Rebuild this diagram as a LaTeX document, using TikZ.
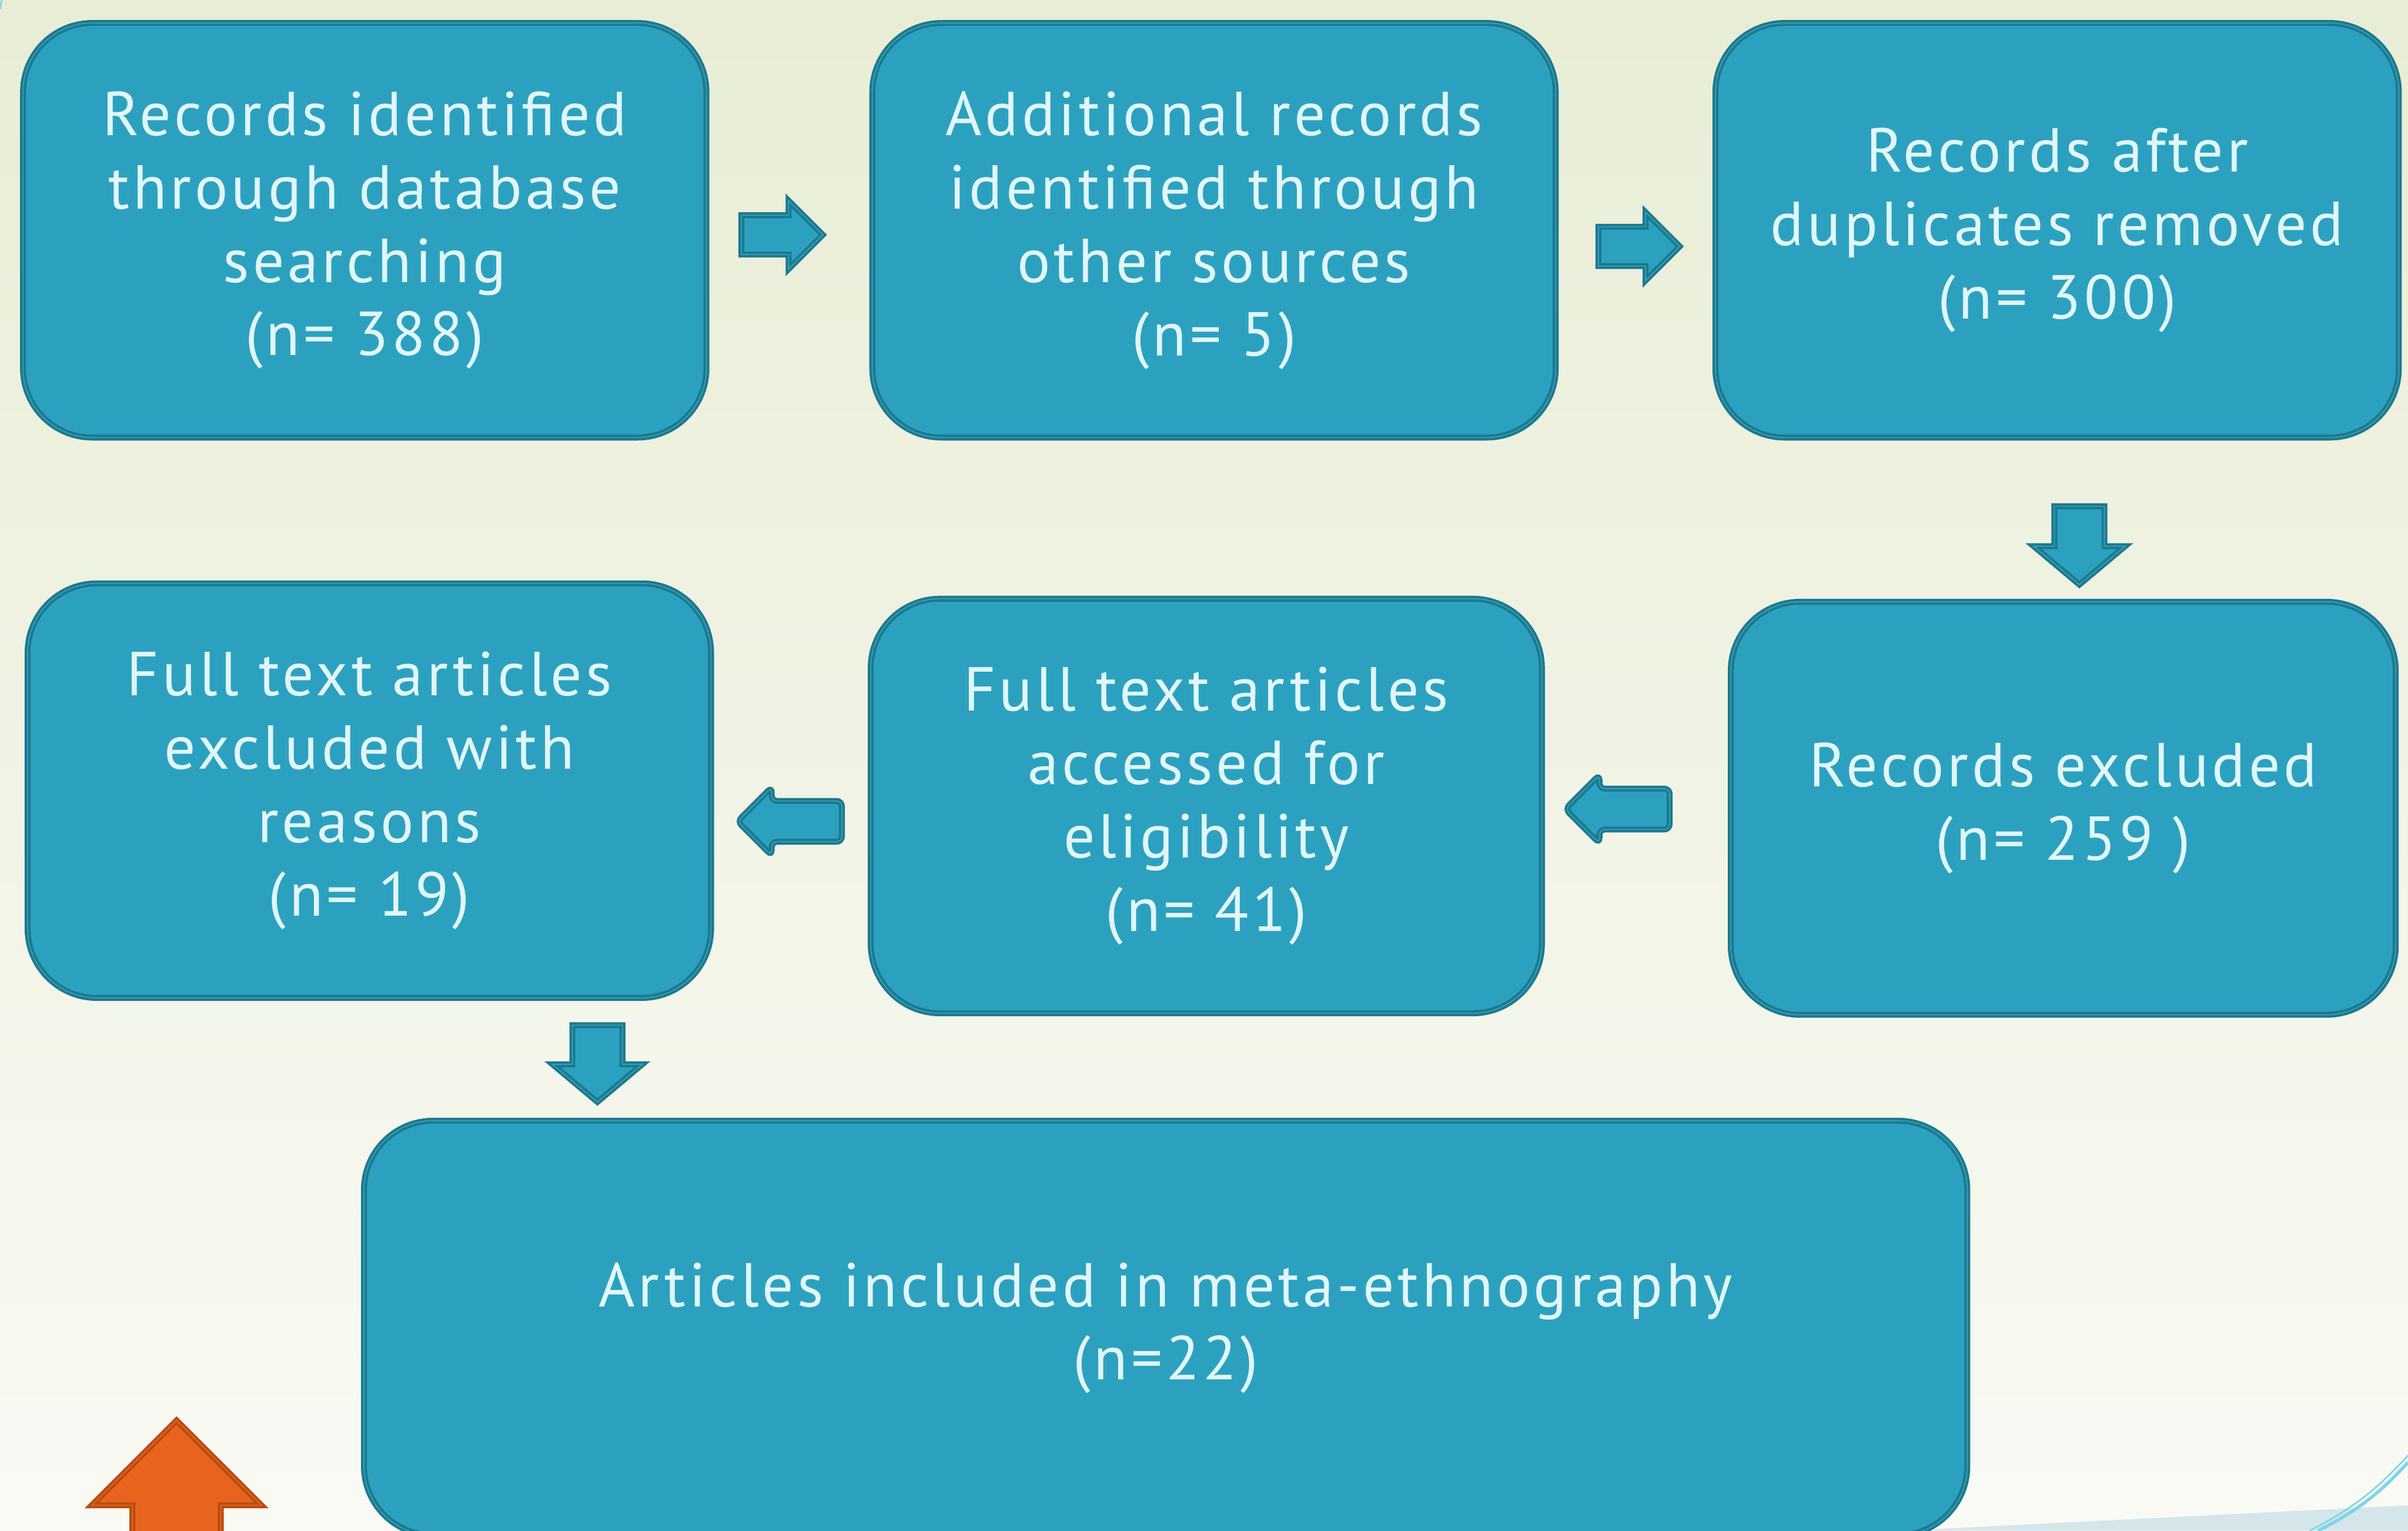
\documentclass[tikz,border=0pt]{standalone}
\usepackage{fontspec}
\setmainfont[LetterSpace=5.5]{PT Sans}
\usepackage{tikz}
\usetikzlibrary{shapes.arrows}

\definecolor{bgtop}{HTML}{E8EDD5}
\definecolor{bgbot}{HTML}{F9FAF4}
\definecolor{boxfill}{HTML}{2CA1BF}
\definecolor{boxline}{HTML}{1E788D}
\definecolor{boxtext}{HTML}{E0F6FA}
\definecolor{upfill}{HTML}{E8641E}
\definecolor{upline}{HTML}{B84C10}
\definecolor{decoline}{HTML}{7DD6E8}
\definecolor{decoband}{HTML}{D5E6EA}

\tikzset{
  flowbox/.style={rectangle, rounded corners=0.45cm, fill=boxfill,
    draw=boxline, line width=0.45pt, double=boxfill, double distance=0.2pt,
    text=boxtext, align=center, inner sep=0pt,
    font=\fontsize{11.5}{13.6}\selectfont},
  blockarrow/.style={single arrow, anchor=tail, inner xsep=0pt,
    fill=boxfill, draw=boxline, line width=0.45pt, double=boxfill,
    double distance=0.2pt},
  uparrow/.style={blockarrow, fill=upfill, draw=upline, double=upfill}
}

\begin{document}
\begin{tikzpicture}
  \useasboundingbox (0,0) rectangle (15.68,-9.97);
  \clip (0,0) rectangle (15.68,-9.97);
  % Background
  \shade[top color=bgtop, bottom color=bgbot] (0,0) rectangle (15.68,-9.97);
  % Corner decoration
  \fill[decoband] (12.40,-9.97) -- (15.68,-9.805) -- (15.68,-9.97) -- cycle;
  \draw[decoline, line width=0.3pt] (15.04,-9.97) to[bend right=10] (15.68,-9.48);
  \draw[decoline, line width=0.6pt] (15.096,-9.97) to[bend right=10] (15.68,-9.525);
  \draw[decoline, line width=0.3pt] (0,-0.06) -- (0.012,0);
  % Boxes
  \node[flowbox, minimum width=4.45cm, minimum height=2.70cm] (rec) at (2.375,-1.50)
    {Records identified\\through database\\searching\\(n= 388)};
  \node[flowbox, minimum width=4.45cm, minimum height=2.70cm] (add) at (7.905,-1.50)
    {Additional records\\identified through\\other sources\\(n= 5)};
  \node[flowbox, minimum width=4.45cm, minimum height=2.70cm] (dup) at (13.395,-1.50)
    {Records after\\duplicates removed\\(n= 300)};
  \node[flowbox, minimum width=4.33cm, minimum height=2.69cm] (exrec) at (13.435,-5.265)
    {Records excluded\\(n= 259 )};
  \node[flowbox, minimum width=4.37cm, minimum height=2.70cm] (acc) at (7.855,-5.25)
    {Full text articles\\accessed for\\eligibility\\(n= 41)};
  \node[flowbox, minimum width=4.45cm, minimum height=2.70cm] (exfull) at (2.405,-5.15)
    {Full text articles\\excluded with\\reasons\\(n= 19)};
  \node[flowbox, minimum width=10.44cm, minimum height=2.70cm] (inc) at (7.59,-8.65)
    {Articles included in meta-ethnography\\(n=22)};
  % Block arrows
  \node[blockarrow, minimum height=0.53cm, inner ysep=0.12cm,
    single arrow head extend=0.095cm] (ar1) at (4.82,-1.53) {};
  \node[blockarrow, minimum height=0.53cm, inner ysep=0.12cm,
    single arrow head extend=0.095cm] (ar2) at (10.40,-1.605) {};
  \node[blockarrow, rotate=-90, minimum height=0.51cm, inner ysep=0.155cm,
    single arrow head extend=0.135cm, single arrow tip angle=100] (ar3) at (13.54,-3.29) {};
  \node[blockarrow, rotate=180, rounded corners=1pt, minimum height=0.68cm,
    inner ysep=0.125cm, single arrow head extend=0.09cm] (ar4) at (10.88,-5.27) {};
  \node[blockarrow, rotate=180, rounded corners=1pt, minimum height=0.68cm,
    inner ysep=0.125cm, single arrow head extend=0.09cm] (ar5) at (5.49,-5.35) {};
  \node[blockarrow, rotate=-90, minimum height=0.50cm, inner ysep=0.155cm,
    single arrow head extend=0.13cm, single arrow tip angle=100] (ar6) at (3.89,-6.67) {};
  \node[uparrow, rotate=90, minimum height=1.20cm, inner ysep=0.28cm,
    single arrow head extend=0.265cm] (up) at (1.15,-10.46) {};
\end{tikzpicture}
\end{document}
